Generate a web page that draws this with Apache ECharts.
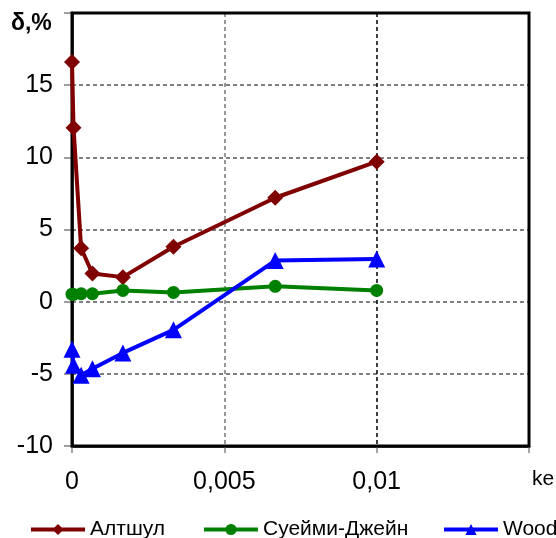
<!DOCTYPE html>
<html>
<head>
<meta charset="utf-8">
<script src="https://cdn.jsdelivr.net/npm/echarts@6/dist/echarts.min.js"></script>
<style>
  html, body { margin: 0; padding: 0; background: #fff; }
  #chart { width: 556px; height: 538px; }
</style>
</head>
<body>
<div id="chart"></div>
<script>
// Relative roughness values and deviation (%) for each friction formula
const ke = [0, 0.00005, 0.0003, 0.00067, 0.00167, 0.00333, 0.00667, 0.01];
const altshul = [16.6, 12.05, 3.7, 1.95, 1.7, 3.8, 7.2, 9.7];
const swameeJain = [0.52, 0.5, 0.55, 0.55, 0.78, 0.64, 1.06, 0.78];
const wood = [-3.3, -4.4, -5.1, -4.65, -3.55, -1.95, 2.85, 2.95];
const xTicks = [0, 0.005, 0.01, 0.015];
const yTicks = [-10, -5, 0, 5, 10, 15, 20];

const FONT = "'Liberation Sans Narrow', 'Liberation Sans', Arial, sans-serif";

const pairs = ys => ke.map((x, i) => [x, ys[i]]);

const chart = echarts.init(document.getElementById('chart'), null, { renderer: 'canvas' });

const legendText = { fontFamily: FONT, fontSize: 21, color: '#000' };
const mkLegend = (name, left) => ({
  data: [name], left: left, top: 519, itemWidth: 54, itemHeight: 14, itemGap: 6,
  textStyle: legendText, padding: 0, lineStyle: { width: 4 }
});

chart.setOption({
  animation: false,
  grid: { left: 72, right: 27, top: 13, bottom: 92, outerBoundsMode: 'none', containLabel: false,
    show: true, borderColor: '#000', borderWidth: 3, backgroundColor: 'transparent', z: 3 },
  xAxis: {
    type: 'value', min: xTicks[0], max: xTicks[xTicks.length - 1], interval: 0.005,
    axisLine: { show: true, onZero: false, lineStyle: { color: '#000', width: 2.5 } },
    axisTick: { show: true, length: 7, inside: false, lineStyle: { color: '#888', width: 1.5 } },
    axisLabel: { margin: 24, fontFamily: FONT, fontSize: 25, color: '#000',
      formatter: v => (v >= 0.015 ? '' : String(v).replace('.', ',')) },
    splitLine: { show: true, lineStyle: { type: [4, 3], width: 1.5, color: ['#777', '#777', '#000', '#777'] } }
  },
  yAxis: {
    type: 'value', min: yTicks[0], max: yTicks[yTicks.length - 1], interval: 5,
    axisLine: { show: true, onZero: false, lineStyle: { color: '#000', width: 2.5 } },
    axisTick: { show: true, length: 8, lineStyle: { color: '#808080', width: 1.5 } },
    axisLabel: { margin: 19, fontFamily: FONT, fontSize: 25, color: '#000',
      formatter: v => (v === 20 ? '' : String(v)) },
    splitLine: { show: true, lineStyle: { type: [4, 3], width: 2, color: '#808080' } }
  },
  legend: [mkLegend('Алтшул', 29), mkLegend('Суейми-Джейн', 202), mkLegend('Wood', 442)],
  graphic: [
    { type: 'text', left: 11, top: 12, style: { text: 'δ,%', fontFamily: "'Liberation Sans', sans-serif", fontWeight: 'bold', fontSize: 23, fill: '#000' } },
    { type: 'text', left: 532, top: 469, style: { text: 'ke', fontFamily: FONT, fontSize: 21, fill: '#000' } }
  ],
  series: [
    { name: 'Алтшул', type: 'line', data: pairs(altshul), symbol: 'diamond', symbolSize: 16,
      lineStyle: { color: '#800000', width: 4 }, itemStyle: { color: '#800000' } },
    { name: 'Суейми-Джейн', type: 'line', data: pairs(swameeJain), symbol: 'circle', symbolSize: 13,
      lineStyle: { color: '#008000', width: 4 }, itemStyle: { color: '#008000' } },
    { name: 'Wood', type: 'line', data: pairs(wood), symbol: 'triangle', symbolSize: 17,
      lineStyle: { color: '#0000ff', width: 4 }, itemStyle: { color: '#0000ff' } }
  ]
});
</script>
</body>
</html>
